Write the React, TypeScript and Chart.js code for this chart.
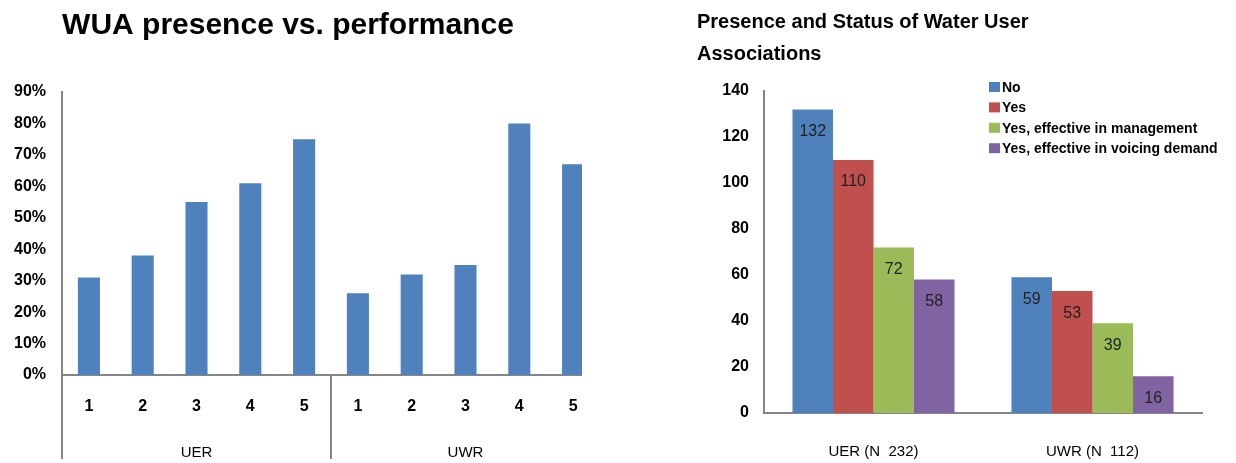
import React, { useEffect, useRef } from 'react';
import { Chart, registerables } from 'chart.js';

Chart.register(...registerables);

const FONT = "'Liberation Sans', Arial, sans-serif";

// ---- Left chart data ----
const leftTitle = 'WUA presence vs. performance';
const leftCategories = ['1', '2', '3', '4', '5', '1', '2', '3', '4', '5'];
const leftGroups = ['UER', 'UWR'];
const leftValues = [31, 38, 55, 61, 75, 26, 32, 35, 80, 67];
const leftYMax = 90;
const leftYStep = 10;

// ---- Right chart data ----
const rightTitleLines = ['Presence and Status of Water User', 'Associations'];
const rightCategories = ['UER (N  232)', 'UWR (N  112)'];
const seriesNames = ['No', 'Yes', 'Yes, effective in management', 'Yes, effective in voicing demand'];
const seriesNo = [132, 59];
const seriesYes = [110, 53];
const seriesManagement = [72, 39];
const seriesVoicing = [58, 16];
const seriesColors = ['#4F81BD', '#C0504D', '#9BBB59', '#8064A2'];
const rightYMax = 140;
const rightYStep = 20;

const AXIS = '#868686';

const leftDecor = {
  id: 'leftDecor',
  afterDraw(chart: any) {
    const ctx = chart.ctx;
    const x = chart.scales.x;
    ctx.save();
    ctx.fillStyle = '#000';
    ctx.font = `bold 30px ${FONT}`;
    ctx.textAlign = 'center';
    ctx.textBaseline = 'middle';
    ctx.fillText(leftTitle, 288, 26);
    ctx.strokeStyle = AXIS;
    ctx.lineWidth = 2;
    const mid = (x.getPixelForTick(4) + x.getPixelForTick(5)) / 2;
    [x.left, mid].forEach((px: number) => {
      ctx.beginPath();
      ctx.moveTo(px, x.top);
      ctx.lineTo(px, chart.height - 4);
      ctx.stroke();
    });
    ctx.restore();
  },
};

const rightDecor = {
  id: 'rightDecor',
  afterDatasetsDraw(chart: any) {
    const ctx = chart.ctx;
    ctx.save();
    ctx.font = `16px ${FONT}`;
    ctx.textAlign = 'center';
    ctx.textBaseline = 'middle';
    ctx.fillStyle = '#1f1f1f';
    chart.data.datasets.forEach((ds: any, i: number) => {
      const meta = chart.getDatasetMeta(i);
      meta.data.forEach((el: any, j: number) => {
        ctx.fillText(String(ds.data[j]), el.x, el.y + 22);
      });
    });
    ctx.restore();
  },
  afterDraw(chart: any) {
    const ctx = chart.ctx;
    ctx.save();
    ctx.fillStyle = '#000';
    ctx.font = `bold 20px ${FONT}`;
    ctx.textAlign = 'left';
    ctx.textBaseline = 'middle';
    rightTitleLines.forEach((t, i) => ctx.fillText(t, 77, 22 + i * 32));
    // legend
    ctx.font = `bold 14px ${FONT}`;
    seriesNames.forEach((name, i) => {
      const y = 87 + i * 20.4;
      ctx.fillStyle = seriesColors[i];
      ctx.fillRect(369, y - 5, 11, 10);
      ctx.fillStyle = '#000';
      ctx.fillText(name, 382, y + 1);
    });
    ctx.restore();
  },
};

export default function App() {
  const leftRef = useRef<HTMLCanvasElement>(null);
  const rightRef = useRef<HTMLCanvasElement>(null);

  useEffect(() => {
    Chart.defaults.font.family = FONT;
    const c1 = new Chart(leftRef.current as HTMLCanvasElement, {
      type: 'bar',
      data: {
        labels: leftCategories,
        datasets: [
          {
            data: leftValues,
            backgroundColor: '#4F81BD',
            barPercentage: 0.41,
            categoryPercentage: 1,
          },
        ],
      },
      options: {
        responsive: false,
        animation: false,
        layout: { padding: { top: 92, left: 0, right: 0, bottom: 0 } },
        plugins: { legend: { display: false }, tooltip: { enabled: false } },
        scales: {
          x: {
            type: 'category',
            position: 'bottom',
            weight: 0,
            grid: { display: false, drawTicks: false },
            border: { color: AXIS, width: 2 },
            ticks: { color: '#000', font: { size: 16, weight: 'bold' }, padding: 22, maxRotation: 0 },
            afterFit: (s: any) => { s.height = 52; },
          },
          x2: {
            type: 'category',
            position: 'bottom',
            weight: 1,
            labels: leftGroups,
            offset: true,
            grid: { display: false, drawTicks: false },
            border: { display: false },
            ticks: { color: '#000', font: { size: 15 }, padding: 17, maxRotation: 0 },
            afterFit: (s: any) => { s.height = 36; },
          },
          y: {
            min: 0,
            max: leftYMax,
            grid: { display: false, drawTicks: false },
            border: { color: AXIS, width: 2 },
            ticks: {
              stepSize: leftYStep,
              color: '#000',
              font: { size: 16, weight: 'bold' },
              padding: 16,
              callback: (v: any) => `${v}%`,
            },
            afterFit: (s: any) => { s.width = 62; },
          },
        },
      } as any,
      plugins: [leftDecor],
    });

    const c2 = new Chart(rightRef.current as HTMLCanvasElement, {
      type: 'bar',
      data: {
        labels: rightCategories,
        datasets: [seriesNo, seriesYes, seriesManagement, seriesVoicing].map((d, i) => ({
          label: seriesNames[i],
          data: d,
          backgroundColor: seriesColors[i],
          barPercentage: 1,
          categoryPercentage: 0.74,
        })),
      },
      options: {
        responsive: false,
        animation: false,
        layout: { padding: { top: 91, left: 0, right: 34, bottom: 0 } },
        plugins: { legend: { display: false }, tooltip: { enabled: false } },
        scales: {
          x: {
            grid: { display: false, drawTicks: false },
            border: { color: AXIS, width: 2 },
            ticks: { color: '#000', font: { size: 15 }, padding: 30, maxRotation: 0 },
            afterFit: (s: any) => { s.height = 50; },
          },
          y: {
            min: 0,
            max: rightYMax,
            grid: { display: false, drawTicks: false },
            border: { color: AXIS, width: 2 },
            ticks: {
              stepSize: rightYStep,
              color: '#000',
              font: { size: 16, weight: 'bold' },
              padding: 15,
            },
            afterFit: (s: any) => { s.width = 144; },
          },
        },
      } as any,
      plugins: [rightDecor],
    });

    return () => {
      c1.destroy();
      c2.destroy();
    };
  }, []);

  return (
    <div style={{ position: 'absolute', left: 0, top: 0, width: 1236, height: 463, background: '#fff', overflow: 'hidden' }}>
      <div style={{ position: 'absolute', left: 0, top: 0, width: 582, height: 463, overflow: 'hidden' }}>
        <canvas ref={leftRef} width={600} height={463} style={{ display: 'block', width: 600, height: 463 }} />
      </div>
      <div style={{ position: 'absolute', left: 620, top: 0, width: 616, height: 463 }}>
        <canvas ref={rightRef} width={616} height={463} style={{ display: 'block', width: 616, height: 463 }} />
      </div>
    </div>
  );
}
